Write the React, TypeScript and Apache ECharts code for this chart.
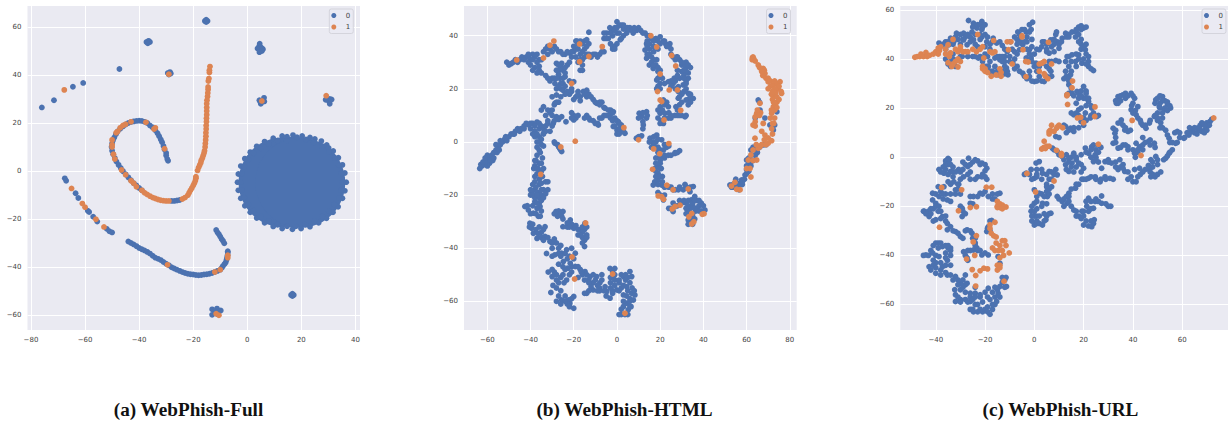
import React, { useEffect, useRef } from "react";
import * as echarts from "echarts";

const BLUE = "#4C72B0";
const ORANGE = "#DD8452";
const captions = ["(a) WebPhish-Full", "(b) WebPhish-HTML", "(c) WebPhish-URL"];
const xTicksA = [-80, -60, -40, -20, 0, 20, 40];
const yTicksA = [-60, -40, -20, 0, 20, 40, 60];
const xTicksB = [-60, -40, -20, 0, 20, 40, 60, 80];
const yTicksB = [-60, -40, -20, 0, 20, 40];
const xTicksC = [-40, -20, 0, 20, 40, 60];
const yTicksC = [-60, -40, -20, 0, 20, 40, 60];

// ---- (a) flat x,y lists
const aSpiralBlue = [-29.3,4.3,-29.6,5,-30,6.5,-30,7.5,-30.6,9,-31,10.5,-31.5,12,-32,13.2,-32.6,14.5,-33.2,15.8,-34,17,-35,18.2,-36,19,-37,20,-38,20.5,-39,20.9,-40,21,-41,20.9,-42,20.7,-43,20.4,-44,20,-45,19.4,-46,18.6,-47,17.6,-48,16.5,-48.6,15.3,-49.2,14,-49.7,12.7,-50,11.5,-50.2,10,-50,8.5,-49.6,7,-49,5.5,-48.4,4,-47.6,2.6,-46.8,1.3,-46,0,-45,-1.3,-44,-2.6,-43,-3.8,-42,-5,-41,-6,-40,-7,-39,-8,-28,-12.4,-27,-12.4,-26,-12.2,-25,-12];
const aSpiralOrange = [-30.6,9.3,-34.5,17.5,-34,18,-37.5,20.3,-43,20.5,-45,19.5,-46,19,-47,18,-48,16.5,-48.5,16,-50,13,-50,11,-50,10,-49.5,7,-49,5,-46.5,0.5,-45,-1.5,-43,-4,-42,-5,-41,-6.5,-39,-8,-38,-9,-37,-9.7,-36,-10.4,-35,-11,-34,-11.4,-33,-11.8,-32,-12.1,-31,-12.3,-30,-12.4,-29,-12.4,-24,-11.6,-23,-11,-22,-10,-21.5,-9,-21,-8,-20.5,-7,-20,-6,-19.6,-5,-19.2,-4,-19,-3,-19,-2.3,-18.4,0.3,-18,1.5,-17.6,2.5,-17.2,3.5,-17,4.5,-16.6,5.5,-16.3,6.5,-16,7.5,-15.8,8.5,-15.6,10,-15.5,11.5,-15.4,13,-15.3,14.5,-15.3,16,-15.2,17.5,-15.2,19,-15.1,20.5,-15.1,22,-15,23.5,-15,25,-15,26.5,-15,28,-14.9,29.5,-14.7,31,-14.6,32.5,-14.5,34,-14.5,35,-14.4,37.5,-14.2,38.5,-14,41,-14,42,-13.8,43.5];
const aLowerBlue = [-44,-29.3,-43,-29.9,-42,-30.5,-41,-31.2,-40,-32,-39,-32.5,-38,-33,-37,-33.6,-36,-34.3,-35,-35.2,-34,-36,-33,-36.5,-32,-37,-31,-37.8,-30,-38.5,-29,-39.2,-28,-40,-27,-40.5,-26,-41,-25,-41.5,-24,-42,-23,-42.4,-22,-42.7,-21,-42.9,-20,-43,-19,-43.2,-18,-43.3,-17,-43.2,-16,-43,-15,-42.9,-14,-42.7,-13,-42.4,-12,-42,-11,-41.5,-10,-41,-9.4,-40.2,-9,-39.5,-8.4,-38.6,-8,-38,-7.7,-37,-7.5,-36,-7.3,-35,-7.2,-34,-7.2,-33.3,-11.5,-24.5,-11,-25.5,-10.5,-26.3,-10,-27.2,-9.5,-28.2,-9,-29,-8.5,-30,-67.5,-3,-67,-4,-63.5,-9.2,-62.5,-11.2,-59,-16.5,-58.5,-17,-57,-19,-55.5,-21,-52,-24,-51,-25,-50,-25.5];
const aLowerOrange = [-65,-7.2,-61,-13.5,-60,-15,-56,-20,-53,-23.2,-29.5,-39,-12,-42,-10,-41,-7.2,-35,-7.2,-36];
const aClustersBlue = [-15.7,62.5,-15.2,63,-14.7,62.5,-15.2,62,-37.3,53.7,-36.5,54.2,-36,53.7,-36.8,53.2,-47.3,42.5,-29.4,40.8,-28.6,41.2,-28.3,40.6,-29,40.2,-76,26.5,-71.5,29.5,-64.5,35.1,-60.7,36.7,4.6,53,4.4,52,5,51.5,3.8,51,4.6,50.8,5.5,51,5.8,50.7,4.5,49.5,5.4,50,4.8,29,5,28.5,5,28,5.8,29,6.3,29,6.2,30.5,4.5,29.5,29.5,29.8,30.2,29.2,30.5,28,30.5,30,31.2,29.8,29,29.7,16.2,-51.5,16.7,-52,17.2,-51.5,16.7,-51,-13,-57.5,-11.2,-57.2,-12,-58.5,-9.8,-58,-13,-59.8,-11,-59.5,-10.5,-58.5];
const aClustersOrange = [-67.7,33.8,-29,40.3,5.4,29.2,29.2,31.4,-11.5,-59.3,-10.5,-60];
const aDiskRim = [16.9,15,20.3,14.6,23.2,14,25,13.4,27.4,12.5,29.4,10.9,31.8,8.4,30.1,9.6,33.7,5.6,35.2,2.6,36.1,-0.8,36.6,-4.6,36.1,-8.2,35.2,-11.3,33.6,-14.8,31.7,-17.1,29.3,-19.6,26.4,-21.5,23.2,-23.1,19.9,-23.9,16.7,-24.2,12.9,-23.9,9.6,-23,6.4,-21.5,3.5,-19.5,1.1,-17.1,-0.9,-14.4,-2.4,-11.3,-3.3,-8,-3.6,-4.6,-3.3,-1.2,-2.4,2.1,-0.9,5.2,1.1,7.9,3.5,10.3,6.4,12.3,9.6,13.7,12.9,14.6,14.7,14.3,18.4,14.1,21.7,13.2,24.6,11.9,27.7,10.4,30.2,8,32.4,5.5,33.9,2.4,34.8,-0.9,35.2,-4.6,34.7,-8,33.9,-11.2,32.2,-13.9,30.2,-16.7,27.7,-18.9,24.8,-20.8,21.5,-22.2,18,-22.9,14.7,-22.9,11.2,-22.3,8,-20.8,5,-18.9,2.3,-16.5,0.4,-13.9,-1.1,-11,-2,-7.9,-2.3,-4.6,-2,-1.1,-1.1,2,0.4,4.8,2.3,7.4,5,9.5,8,11.3,11.2,12.7,14.6,12.6];
const aDiskInner = [16.4,-4.4,13.4,-4.6,19.6,-4.8];

// ---- (b)
const bLeftArm = [-63.5,-10,-62.5,-9,-61.5,-8.5,-63,-8.5,-60,-9,-59,-8,-60.5,-7,-59,-6,-60,-5,-57.5,-7,-58,-5,-57,-4,-56,-3,-55,-2,-56,-1,-54,-1,-53,0,-52,1,-51,0.5,-50,2,-48,3,-47,4,-46,5,-44.5,5,-43,6,-41,6.5,-39,7,-37,7.5,-40,5,-38,4,-36,5,-35,6,-38,2,-36,2,-34,3,-37,0,-34,3.3,-31,4,-29.5,7,-28,9.5,-31,11,-33,10,-35,12,-34,13.3,-28.7,14.6,-28,17.7,-28,20,-25.6,9.5,-23.6,7.6,-62,-7.5,-61,-6,-58.5,-7,-57,-6,-55.5,-4,-54.5,-3,-54,0.5,-51.5,2,-49,3,-47.5,3,-45,4,-43,5,-42,7,-40,7,-38,6,-36,7,-34,5,-33,6,-32,7,-39,3,-37,3,-35,1,-33,4,-30,6,-29,8,-30,10,-32,8,-27,8.5,-30,12,-29,14,-32,12,-27,15,-30,17,-26,17,-28,15];
const bColumn = [-36,0,-37,-2,-36,-3,-37,-5,-37.5,-7,-36,-8,-38,-9,-36.5,-10,-35,-11,-37,-12,-36,-14,-38,-15,-36,-16,-33,-15,-32,-15,-39,-16,-39.5,-19,-38,-18,-36,-19,-34,-18,-32,-18,-38,-21,-36,-21,-35,-20,-38,-22.5,-36,-23,-42.6,-24.3,-41,-25.6,-38.7,-26.8,-36.4,-28,-35.6,-24.3,-37,-25,-40.3,-30.6,-38.7,-34.4,-37,-36.3,-33.3,-31.9,-33.3,-35.6,-31,-37.5,-28,-38,-27,-40,-39.5,-32.5,-35,-34,-32.6,-42,-28.7,-42.5,-25.6,-41.9,-23.3,-40.6,-19.3,-41.9,-30,-40,-35,-1,-34,-1.5,-35.5,-4,-34.5,-6,-38,-7,-38.5,-10,-37,-10,-35,-8,-34,-10,-36,-12,-38,-13,-34.5,-13,-35,-15.5,-37.5,-17,-40,-18,-40,-20,-39,-20,-37,-19,-37,-20,-35,-18,-33,-19.5,-37,-23,-35,-22,-34,-21,-39,-24,-37.5,-27,-40,-27,-41.5,-24,-35,-26,-35.5,-28,-40.5,-32,-39,-31,-37.5,-33,-36.5,-34.5,-35,-36,-36,-32,-34,-33,-32,-36,-34,-37,-30,-38,-29,-36.5,-26,-39,-27,-42,-30,-43,-26,-43,-24,-42,-22,-43,-21,-40,-23,-44,-20,-44,-21,-47,-25,-47,-22.7,-47.5];
const bBottom = [-24.8,-45,-21.6,-45.7,-19.3,-46.9,-17,-48,-14.8,-48.8,-12.5,-50.7,-9.4,-50.7,-7,-50,-11,-53,-7.9,-53,-5.5,-54.5,-11,-55.7,-14,-57,-4.7,-56.3,-3.2,-58.8,0,-55.7,3,-57.6,4.5,-54.5,6,-53,6.8,-57,8.3,-57.6,7.6,-59.5,4.5,-60.7,5.2,-63.2,3.7,-65,-1.7,-50.7,-3.2,-47.6,-1,-47.6,3,-50.7,6,-48.8,6.8,-50.7,-31.8,-49,-30,-50.7,-27,-53,-23.3,-52,-29.6,-54,-30.6,-56.7,-25.6,-59.5,-22.5,-59.5,-20,-58.2,-20,-62.6,-21.8,-60.7,-16.5,-49,-24,-48,-27,-46,-28,-50,-21,-49,-8,-55,-13,-52,-3,-53,1,-53,4,-52,3,-60,6,-62,2,-63,1,-65,-24,-58,-23,-61,-28,-60,-2,-57,-18,-47,-16,-50,-14,-50,-15,-52,-13,-53,-11,-50,-10,-52,-12,-54.5,-9,-54,-8,-56,-6,-56,-7,-52,-9,-56,-13,-56,-15,-57,-5,-58,-2,-56,-3,-55,-1,-54,1,-56,2,-55,3,-54,5,-56,4.5,-58,6,-59,7,-55,8,-56,6,-60,3,-62,6.5,-62,5,-65,2,-65,-1,-52,-2,-49,-3,-51,1,-52,2,-50,4,-50,5,-51,-1,-50,-29,-49,-30,-48,-26,-51,-24.5,-53,-28,-55,-26,-56,-28,-52,-25,-50,-22,-50,-18,-51,-27,-58,-24,-60,-21,-59,-22,-62,-26,-61];
const bIsland = [-28.2,-26.2,-25,-26.2,-25.6,-28,-27.5,-28,-25,-31.9,-21.6,-29.4,-20,-32.5,-17,-33,-14.8,-30.6,-18,-35,-15,-37,-15,-39.4,-23,-32,-21,-31,-15,-33,-16,-36,-28.7,-0.5,-27,-1.8,-25.6,-3.6,-27,-27,-25,-29,-23,-30.5,-22,-32,-19,-31.5,-18,-33,-16,-32,-14,-32,-16,-34,-14,-35,-17,-35,-14,-36,-16,-38,-27,-26,-29,-27,-26,-27,-29,0,-27.5,-1,-26,-3,-26.5,-2.5];
const bUpperLeft = [-51,30,-49,29.5,-47,31,-45,31,-44,32,-42,32,-40,31,-39,33,-37,33,-36,31,-40,29,-38,28,-37,26,-36,27,-41,30,-34,34,-33,35,-31,35,-29,36,-28,35,-26,34,-24,33,-22,33.5,-20,34,-19,35,-21,32,-18,37,-17,38,-19,38,-15,38,-13,37,-15,35,-13,33,-11,33,-9,32,-8,33,-6,34,-17,33,-17,31,-16,29,-17,27,-15,32,-18.6,38,-14,38.5,-13,41.3,-28,29.6,-25.6,29.6,-23,29,-27,27,-25,27,-24,24.6,-26.4,24,-33,25,-31,23,-28.7,22,-25,22,-20,22.7,-30,24,-27,25.5,-50,29,-48,30,-46,30,-43,31,-41,32,-38,32,-41,33,-39,31,-37,30,-39,27,-36,28.5,-35,26,-35,31,-32,33,-30,34,-32,36,-27,34,-25,33,-23,34,-21,34,-20,36,-18,35,-19,32,-18,30,-16,37,-14,36,-16,34,-14,33,-12,32,-10,33,-7,34,-16,31,-16,27,-28,27,-26,28,-24,28,-24,26,-27,29,-22,30,-29,24,-32,24,-28,24,-26,22,-24,21,-27,21,-25,24,-22,23,-21,20,-26,20];
const bMidBranch = [-25,19.5,-22,18,-19,17,-15.6,19,-14,17,-11,16,-9.4,14.6,-7,15,-5.5,12.7,-3,12,-1.7,11.4,-6,10,-8,9,-4,10,-1,9,0.6,7.6,2,6.4,-1.7,5.8,2,3.9,3.7,3.3,-20,10,-19,9,-20,8.3,-14,10,-12.5,8.3,-10,7,-8.6,6.4,-23,19,-18,19,-13,18,-17,15.5,-3,10.5,0,4.5,1,5,-24,18,-21,19,-20,16,-17,17,-15,18,-14,19.5,-12,17,-10,15,-8,15,-8,14,-6,13,-4,12,-2,11,-5,10,-7,9,-3,9,-2,8,0,8,1,7,-1,6,0,3,1,3,3,4,-21,11,-21,9,-18,10,-15,9,-13,9,-11,8,-9,7,-18,18];
const bTopArc = [-4.8,41,-2.5,42,-1,43,0,45.3,2,44,4,43,6,43,9,42,10,43,12,41,15,40,18,39,21.5,38,24,36,26,32,29,31,32,28,33,26,32,23,-2,35,-1,36,1.5,38.5,4.5,41,-4,39,-2,40,0,41,3,42.5,-6,41,-3.3,43,7.5,41,14,38,17,38,20,39.6,24.5,37,22.5,37,-6,39,-5,39,-3,41,-1,42,1,44,0,43,1,41,3,44,5,43,3,40,5,42,7,42,8,43,11,42,13,41,14,40,16,39,19,38,20,37,22,38,23,36,25,35,25,33,27,31,28,32,30,29,31,29,32,30,34,28,33,24,-3,37,0,37,-2,36,-1,35,2,39];
const bRightBlock = [13,34.6,13.7,31.5,16,32,18.4,31,16.8,27.7,19,26.5,18.4,23.3,20,22,18.4,20,23.8,22.7,26,22,28.4,20.8,26.5,24,30,26.5,32,26.5,30.7,21.5,33,18.3,35.3,16.4,32,15.8,28.4,19,28.4,16.5,27.3,13.3,26.8,10,31.5,9.5,23.8,9,21.5,7,20,10.8,20,13.3,21.5,15.8,23.8,13.3,22.2,10.8,13.7,37,27.6,32,30,30,33,29,15,35,17,34,15,29,18,29,21,24,29,10,33,14,34,18,31,25,28,27,32,20,29,14,25,9,20.5,8,14,33,15,33,17,31,14,36,15,37,17,36,19,35,16,30,17,29,19,28,20,27,20,25,19,24,19,21,20,20,22,22,25,23,27,23,29,24,28,25,31,27,31,24,32,22,31,19,30,18,33,16,34,17,34,15,29,17,30,15,28,12,28,10,30,10,32,10,25,10,22,9,20,7,19,12,19,9,21,12,22,14,23,15,24,11,27,20,25,21];
const bMiddle = [10.3,10.8,11.4,9.5,13.7,11.4,13.7,9,12.2,6.4,12,7.6,9,1.4,11.4,2.3,15.3,1.4,18.4,2.6,16.8,0,20.7,0.8,16,-2,18.4,-2.4,21.5,-3,24,-1.5,20,-5.5,23.8,-5,26.8,-4.3,29,-3.3,20,-8,17.6,-10,19,-11.8,19,-14.3,16.8,-16.2,20.7,-16.2,23,-16.8,26,-18,28.4,-18,31.5,-16,35.3,-16.8,30.7,-18,33.8,-18.7,18,-6,19,-9,21,-13,20.5,-10,22,-6,12,11,10,9,12,5,14,10,10,2,15,0,17,2,18,0,19,1,17,-1,19,-2,20,-3,22,-1,23,-2,19,-4,22,-5,25,-5,27,-4,28,-4,20,-7,18,-8,20,-10,18,-11,18,-13,20,-13,17.5,-15,19,-16,21,-15,22,-17,24,-17,25,-17,27,-18,29,-17,32,-17,34,-17];
const bLowerRight = [24,-25,30,-23,32,-23,34.5,-21.8,37,-22,39,-23,40.7,-25.6,35,-24,38,-24,33,-26.2,34.5,-30,33,-29.4,36,-29,27,-24.3,26,-26.2,21.5,-21.8,19,-19,36,-20.5,34,-25,36.5,-26,39,-26,25,-25,26,-23,28,-24,29,-22,31,-22,33,-22,33,-24,35,-23,36,-22,38,-22,36,-25,37,-25,40,-24,38,-26,32,-25,32,-27,34,-28,35,-27,35,-31,33,-31,35,-28,20,-20,22,-20];
const bArcBlue = [52.3,-16.2,54,-15.8,56,-15.6,56,-17.5,57.7,-14.3,59.3,-12.4,60,-10.5,61.6,-8,60,-6.8,62.3,-4.9,64,-3,65.4,-1.8,67.7,-1.1,65.4,15.8,66.2,12,64,9,68.5,9,70.8,6.4,73,6.4,72.4,4.5,74,11.4,55,-14,57,-16,54,-17,53,-17,55,-17,56.5,-18,58,-16,58,-15,59,-14,60,-12,61,-11,60,-9,62,-9,63,-7,61,-6,62,-3,63,-2,65,-4,64,-5,66,-2,69,-1,66,15];
const bArcOrange = [62.7,31.7,63,32,63.3,31.3,62.6,31,65.4,29,67.7,27.7,66.8,27.5,68.5,25.8,68.2,27,67.5,25,70,22.7,71,21,72.4,21.5,74,22,75.5,22.7,76.2,18.3,74.6,20,72.4,17,73.5,18.5,74,15,75,16,72.4,13.3,71.6,10.8,73,9,72.6,7,71.6,5,71.6,0.5,70,-0.5,68.5,2.6,68.2,0.8,66.2,-1.8,65.4,-2.4,63.9,1.4,63,-3,62,-4.9,60.8,-6.8,64.7,-6.8,63,-7,61.6,-10,60,-10,62,-13.2,54.6,-15.2,53,-16.6,55.4,-17.8,57,-18,66.2,14.6,64.7,10.8,64,7.6,67.7,7,63,6.4,65.4,11,64,9.5,66.5,11,72.5,15,71.5,18,70,20,73,12,64,30.5,66,28,67,26.5,69,24,70,24,71,23,73,23,75,21,73,20,72,19,74,17,76,19,72,16,73,14.5,74,13,71.5,12,71,9,72,7,72,3,67,-1,69,-1,70,1.5,64.5,-1,67,4,66,10,65,12,64,6];
const bSpotsOrange = [-46.4,30.9,-34,31.6,-31,36.4,-29.2,38,-17.3,36.9,-17.3,30.2,-13,32.2,-6.8,35.9,-21,22,3.2,5.4,10,0.8,-26,-1.9,-19.3,0.3,-35.3,-12.2,15.7,40,18.4,35.8,25.3,32.6,27.2,28.6,20,25.6,18.8,19,24.2,19.6,28,19.6,20,15.8,20.7,15.2,29.5,11.9,21.8,8.3,24,-0.6,17,-2.6,19.8,-4.4,16.5,-10.3,23.1,-16.3,26,-18,33,-17.7,19.1,-20.3,20.7,-20.6,21.6,-21.6,29.2,-23.8,26.9,-24.3,25.6,-25.2,34.6,-26.9,33.3,-28.2,35.6,-30,34.6,-30.9,39.5,-27.2,40.3,-27,-14.5,-30.5,-20.8,-43.3,-19.6,-51.6,-2,-49.7,3.7,-64.5];

// ---- (c)
const cTopBlue = [-26.7,55.7,-24.7,54.6,-21.3,55.3,-20,54,-23.3,52.6,-21.3,52,-25.3,51,-28.7,50.5,-31.6,50.5,-34,48.5,-36,47,-38.7,46.5,-28.7,47.8,-24.7,47.8,-21.3,49,-19.3,47,-16.7,48.5,-15.3,46.5,-34.7,45.8,-32.7,47,-27.3,45.8,-35,38,-34,37,-31.3,39.7,-29.3,41,-22.7,40.4,-21,40.4,-18.7,37,-20,36.3,-17.3,33.6,-14.7,33.6,-10.7,33.6,-11.3,36.3,-14,39.7,-16,40.4,-12,41,-10,39,-8.7,38.3,-7,37,-9.7,47,-6,43.8,-5.3,46.5,-5.3,49,-6.7,51,-3.3,51,-1.3,52,-0.7,55,-4.7,45.8,-2,43.8,-1.3,40.4,-3.3,40.4,0.7,38.3,3.3,38.3,6,39,8.7,39.4,-4.7,34.2,-2,32.9,0,30.8,2,32.9,4,30.8,6.7,35,2,43.8,3.3,47,6.7,47.8,9.3,47,6,42.4,10,44.4,8.7,50,11.3,48.5,12.7,50.5,15.3,51,18,53,20,52.6,19,53.5,16.7,49,18,47,20.7,43.8,22,41,15.3,41.7,18,41.7,13.3,41,12.7,39,16.7,39,19.3,38.3,22,37,24,35.3,12.7,35,14.7,33.6,-23,45,-18,44,-20,42,-25,41,-12,44,-16,37,-13,35,-7,46,-8,49,-3,47,-1,48,-2,35,1,35,5,43,8,46,14,50,17,51,19,44,21,46,17,37,-26,49,-30,46,-36,44,-31,48,-37,46,-35,47,-33,46,-32,49,-30,50,-28,49,-26,47,-24,46,-25,53,-23,54,-22,54,-21,53,-24,50,-22,50,-20,50,-22,48,-19,49,-17,47,-20,45,-18,46,-14,47,-13,45.5,-27,50,-29,48,-33,42,-36,40,-33,40,-30,41,-27,41,-32,37,-34,39,-24,41,-22,41,-21,39,-19,41,-18,39,-19,37,-18,35,-17,35,-20,37,-15,35,-12,34,-11,35,-12,37,-13,39,-14,41,-15,41,-12,39,-10,41,-8,40,-8,36,-13,41,-11,43,-9,44,-8,43,-7,42,-6,47,-7,48,-6,50,-5,52,-4,52,-2,51,-2,54,-3,49,-4,47,-3,44,-1,45,0,42,-2,42,-1,39,0,37,2,37,5,37,7,39,10,39,-6,35,-4,33,-3,32,-1,31,1,31,3,31,5,33,6,36,7,33,1,44,3,45,4,47,5,46,7,45,8,43,5,44,8,48,10,46,11,47,9,51,13,49,14,49,17,52,19,52,21,53,18,50,19,48,19,46,20,45,21,42,22,39,17,42,14,41,15,39,18,40,20,40,21,38,23,36,14,37,13,33,14,32,15,35];
const cRiver = [14,29.5,15.3,26,13.3,25.4,17.3,26.8,20,28.8,20,24,22,22.7,18,19.3,16,17.3,20.7,18,23.3,20,25.3,16.6,22.7,16,19,14.5,16,10.5,14.7,11.8,12.7,12.5,8.7,8.4,18,24,17,22,21,26,14,31,19,16,12,32,15,28,14,26,16,25,18,26,19,27,21,27,19,25,21,24,22,24,21,21,23,21,19,20,17,18,15,18,18,17,20,16,21,15,23,17,24,18,26,17,20,13,18,12,16,12,14,11,13,10,12,13,10,8];
const cCenter = [7.3,3.7,9.3,2.3,11.3,0.3,14,-0.4,16,1.6,12.7,-3.1,15.3,-2.4,18,-2.4,20,-4.5,14,-5.8,20.7,3.7,23.3,4.3,26,5,22,1.6,24.7,1,24,-1.8,28.7,-1.8,31.3,-2.4,34.7,-1,36,-3,34,-5,36.7,-5.8,27.3,-4.5,40.7,-5,39.3,-8,41.3,-10,42.7,-4.5,46.3,-3.4,47.3,-1,49.3,0.3,50,-1,46.7,-5,47.3,-8,50,-7,51.3,-6,53.3,-0.4,54.7,1.6,56,3,-3.3,-6.5,-1.3,-5,0.7,-2.4,2,-1.8,0,-8.6,3.3,-6.5,6,-5.8,8.7,-5,9.3,-7.2,6,-9,6,-13,19.3,-9,22,-8.6,24.7,-8,26.7,-10,28.7,-8,30.7,-8.6,16.7,-12.6,14,-14.7,13.3,-18.8,9.3,-16,11.3,-18,16,-21.5,18,-24,19.3,-22,21.3,-20,24,-20.8,20,-27.6,23.3,-28.3,24.3,-25.5,22,-16.7,24.7,-18,27.3,-18.8,31,-20,27.3,-15.8,0,-13.3,2,-14.7,5.3,-16,0,-18.8,-1.3,-22,0.7,-24,3.3,-27.6,0,-27.6,6.7,-22.8,4.7,-25.5,3.3,-18.8,1,-21,2,-24,-1,-26,20,-24,14,-2,17,-1,19,-6,25,0,30,-1,43,-7,45,-5,3,-9,5,-11,8,3,10,1,12,-1,13,1,15,0,17,0,15,-4,17,-4,19,-3,13,-5,16,-6,19,1,21,2,23,3,25,3,24,5,27,4,26,2,23,0,25,-1,26,-2,30,-2,33,-2,33,-4,35,-4,36,-4.5,38,-6,38,-9,40,-10,42,-8,44,-6,48,-4,48,-2,47,-6,49,-8,48,-7,50,-3,52.5,-1,54,0.5,55,2,-4,-7,-2,-7,-1,-9,1,-8,1,-5,1,-7,3,-5,5,-7,7,-6,8,-7,7,-9,5,-12,7,-12,5,-14,6,-15,20,-9,21,-9,23,-8,25,-9,27,-9,29,-9,32,-9,18,-11,17,-11,15,-13,14,-16,13,-16,14,-18,12,-17,10,-17,12,-20,15,-20,17,-22,17,-24,19,-25,20,-22,22,-22,23,-21,21,-26,23,-26,24,-27,22,-28,21,-18,23,-18,25,-17,26,-18,29,-19,30,-20,1,-16,3,-15,4,-16,1,-18,-1,-20,0,-22,0,-24,1,-26,2,-27,4,-26,5,-24,6,-23,4,-23,3,-20,5,-19,1,-27,-1,-24];
const cRightBlue = [32,11.8,32.7,9.8,32,5.7,34,3.7,36,5,38,4.3,40.7,1.6,42.7,4.3,46.3,6.4,48.7,5.7,41.3,5.7,34,13.9,35.3,15.2,36.7,11.1,38,10.5,33.3,22,34,24.7,36,25.4,39.3,26,40.7,24,39.3,19.3,42,20.6,41.3,17.3,43.3,13.9,45.3,11.8,46.7,13.9,48.7,16.6,50,18,49.3,23.4,52,24.7,50.7,20.6,52.7,19.3,55.3,20,54,21.3,51.3,14,53.3,11,54.7,7.7,57.3,5.7,58,10.5,60.7,7.7,62.7,9,64,11,66,11.8,68,10.5,70,12.5,71.3,14.5,67.3,13,44,3,44,8,42,2,37,24,35,23,53,23,52,16,50,15,63,10,65,10,69,11,66,9.5,70,14,72,15.5,33,11,33,8,33,6,35,4,37,5,38,3,40,3,41,0,42,3,44,5,45,6,47,5,47,7,49,4,35,14,36,13,37,12,39,11,34,22,33,23,35,25,37,26,38,25,40,25,40,22,39.5,21,41,19,40,18,42,16,43,15,44,13,45,13,47,15,49,17,50,16,49,22,50,24,51,25,52,23,51,22,51,20,53,20,54,19,55,21,54,22.5,52,18,51,12,52,12,54,9,55,6,56,6,58,6,59,8,57,10,59,10,61,8,62,10,63,12,65,12,67,11,67,12,69,10,70,11,71,13,69,13,68,14];
const cLowerUp = [-35.3,-1,-36,-3,-38.7,-5,-36.7,-6.5,-34,-5.8,-30.7,-5,-27,-3.8,-26.7,-0.4,-24,-1,-21.3,-2.4,-19.3,-4.5,-21.3,-8,-24,-9,-19.3,-9,-28.7,-8,-32.7,-10,-36.7,-12,-41.3,-14.7,-38.7,-16,-35.3,-17.4,-32,-13.3,-30.7,-11,-41.3,-17.4,-24.7,-16,-22,-14.7,-26,-18.8,-18.7,-16,-14,-14.7,-29.3,-24.2,-29.3,-20.8,-40,-18.8,-44.7,-22,-42.7,-24.2,-40,-25.5,-38.7,-20,-37.3,-24.2,-35.3,-27,-34,-28.3,-35,-0.5,-33,-6,-36,-15,-34,-15,-30,-15,-29,-2,-26,-6,-38,-22,-42,-21,-33,-8,-17,-17,-36,-1.5,-34.5,-1,-35,-3,-37,-4,-33,-4,-34,-3,-38,-6,-36,-5,-35,-7,-32,-6,-30,-6,-29,-5,-28,-3,-25,-2,-26,-3,-23,-1.5,-22,-3,-20,-3,-20,-5.5,-21,-7,-23,-8,-20,-8,-26,-9,-27,-7,-30,-9,-31,-11,-34,-11,-35,-10,-38,-14,-39,-12,-40,-15,-37,-15,-37,-17,-34,-18,-32,-15,-31,-13,-26,-16,-25,-19,-23,-16,-21,-15,-20,-14,-17,-15,-16,-17,-15,-15,-29,-22,-28,-23,-30,-20,-43,-22,-45,-22,-44,-23,-42,-23,-41,-21,-40,-20,-39,-22,-38,-25,-36,-26,-36,-24,-41,-26];
const cLowerDown = [-35.3,-29.6,-32,-30.3,-30,-32.3,-27.3,-29.6,-25.3,-31,-24,-33,-24.7,-37.8,-28.7,-38.5,-27.3,-41,-23.3,-37,-21.3,-39.8,-18.7,-28.3,-19.3,-30.3,-17.3,-25.8,-40,-35,-37.3,-36.4,-34,-37,-44,-39.8,-41.3,-39,-38.7,-40.5,-35.3,-42,-42.7,-44.6,-40,-47.3,-37.3,-44.6,-35.3,-48,-32,-48.6,-30,-51.4,-28,-48,-27.3,-51.4,-32.3,-54,-32,-58.8,-28,-58,-26,-55.4,-24,-55.4,-26,-58.8,-24.7,-63,-22,-62,-18,-64,-21,-59,-18,-58,-15.3,-58.8,-14.7,-55.4,-18.7,-53.4,-14,-52.7,-12,-50,-11.3,-52.7,-14,-43.2,-14.7,-40.5,-18.7,-39.8,-39,-37,-36,-39,-40,-43,-35,-37,-34,-44,-30,-54,-30,-58,-22,-57,-19,-61,-20,-55,-16,-60,-24,-60,-21,-63,-26,-62,-24,-53,-33,-30,-31,-31,-29,-33,-28,-30,-26,-30,-25,-33,-24,-35,-24,-36,-26,-38,-27,-38,-23,-38,-22,-38,-28,-40,-27,-42,-20,-39,-19,-29,-18,-30,-18,-26,-41,-36,-39,-35,-38,-35,-36,-36,-35,-36,-34,-38,-34,-40,-36,-41,-43,-40,-45,-40,-42,-38,-40,-40,-41,-42,-38,-43,-36,-44,-41,-44,-42,-46,-40,-45,-38,-46,-38,-48,-36,-47,-34,-48,-33,-50,-31,-50,-29,-50,-28,-52,-31,-52,-29,-53,-28,-55,-32,-56,-31,-57,-30,-59,-26,-57,-25,-58,-27,-59,-24,-57,-22,-56,-23,-60,-25,-62,-23,-63,-20,-62,-19,-63,-17,-62,-17,-60,-16,-57,-14,-57,-15,-54,-16,-53,-13,-51,-12,-53,-13,-49,-11.5,-49,-19,-57,-17,-55];
const cTopOrange = [-48.5,40.7,-47.5,41,-46.5,41,-46,42,-45,41,-44,42.7,-43.5,41,-42.5,41.5,-41,42,-40,43,-39,42,-38.5,43.5,-39,44.5,-38,45,-36,44,-36,42,-35,45.8,-34,42.5,-34.5,41,-33,48,-32,44,-31,43,-30,44,-30,45,-29,43,-28,43,-27,43,-25,44,-23.5,43,-22,44,-21,45,-23,50,-31,40,-32,39,-33,38,-35,38.5,-33.5,37,-30,39,-31,36.8,-16.5,47.5,-18,43,-17,42.5,-16,43,-20.5,40.4,-21,37,-20,36,-21,36,-20,35,-19,34.5,-17.5,33,-15.5,33.5,-14,36,-13.5,34.5,-13.5,33,-11,47,-9.5,47,-10.5,43.8,-9,38,-5,49.5,-5,49,-4.6,43.8,-3.5,39,-2.5,38.8,2,38,3,38.3,4,39,7,38,2,35,4,34,4.5,33,5.5,32,-3.4,32.8,5.7,46.8];
const cMidOrange = [15.5,31,15.3,28.3,13.3,25.5,13.2,25,13.5,21.5,24.6,20.5,24.5,16.6,17.5,16,18.8,16.2,20,14,7,13,6.5,11,6,10.5,6,9.5,8,10.5,9.5,12.5,10,13,11.5,12,9,11.8,4,6.5,5,4.5,4,4,3.5,3.6,3,3.3,6,4.5,4.5,3.5,9,2.8,11,1.5,11,0.7,26,5.3,39.7,15,43.3,0.7,72.8,16,-3,-6.6,8,-9.7,0.5,-14.2];
const cLowOrange = [-37.6,-12.3,-29.5,-13.3,-19.5,-12.2,-17.3,-12.2,-30.8,-21.8,-26,-20.5,-23.5,-20.2,-15,-18,-14,-19,-13,-19.5,-15,-20,-14,-20.5,-12.5,-20.3,-11.5,-20.3,-15,-20.5,-13,-21,-38.5,-28.5,-18,-27.5,-16,-26.5,-18,-29,-17.5,-31,-16.5,-32,-15.5,-32.5,-15.5,-35,-14,-36,-13,-34,-12,-34,-11.5,-36,-17,-37,-16,-38,-14.5,-38,-13,-38,-12.5,-40,-14,-41,-10.2,-39,-15,-44,-14,-44,-15,-46,-14,-45,-23.5,-32,-24.8,-34.5,-24.2,-40,-27.5,-41.5,-25.2,-45.8,-20.5,-45.2,-19,-45.5,-22,-46.3,-23.8,-48.2,-23.8,-52.5,-12.3,-50.5];

const pts = (...lists: number[][]) => {
  const out: number[][] = [];
  for (const l of lists) for (let i = 0; i + 1 < l.length; i += 2) out.push([l[i], l[i + 1]]);
  return out;
};

const axes = [
  { left: 27.5, w: 332.5, xMin: -81.3, xMax: 41.7, yMin: -66.1, yMax: 68.7, xT: xTicksA, yT: yTicksA },
  { left: 464, w: 332.7, xMin: -70.8, xMax: 83.2, yMin: -70.8, yMax: 51.2, xT: xTicksB, yT: yTicksB },
  { left: 900.3, w: 332.5, xMin: -54.4, xMax: 78.6, yMin: -70.4, yMax: 61.6, xT: xTicksC, yT: yTicksC },
];
const legendLeft = [329.3, 766.5, 1202];
const captionX = [188.5, 624.5, 1060.5];
const blueSets = [
  pts(aSpiralBlue, aLowerBlue, aClustersBlue, aDiskRim),
  pts(bLeftArm, bColumn, bBottom, bIsland, bUpperLeft, bMidBranch, bTopArc, bRightBlock, bMiddle, bLowerRight, bArcBlue),
  pts(cTopBlue, cRiver, cCenter, cRightBlue, cLowerUp, cLowerDown),
];
const orangeSets = [
  pts(aSpiralOrange, aLowerOrange, aClustersOrange),
  pts(bArcOrange, bSpotsOrange),
  pts(cTopOrange, cMidOrange, cLowOrange),
];

const fmt = (v: number) => String(v).replace("-", "\u2212");

export default function App() {
  const ref = useRef<HTMLDivElement>(null);
  useEffect(() => {
    document.body.style.margin = "0";
    const chart = echarts.init(ref.current!, null, { renderer: "svg" });
    const series: any[] = [];
    const base = { type: "scatter", symbol: "circle", silent: true, large: false, progressive: 0 };
    // the saturated interior of the big disc of panel (a)
    series.push({ ...base, name: "0", xAxisIndex: 0, yAxisIndex: 0, symbolSize: 90, itemStyle: { color: BLUE, opacity: 1 }, data: pts(aDiskInner), z: 2 });
    axes.forEach((_, i) => {
      series.push({ ...base, name: "0", xAxisIndex: i, yAxisIndex: i, symbolSize: 5.8, itemStyle: { color: BLUE, opacity: 1 }, data: blueSets[i], z: 3 });
      series.push({ ...base, name: "1", xAxisIndex: i, yAxisIndex: i, symbolSize: 5.8, itemStyle: { color: ORANGE, opacity: 1 }, data: orangeSets[i], z: 4 });
    });
    const label = { show: true, fontSize: 7, color: "#444", fontFamily: "DejaVu Sans", formatter: fmt };
    chart.setOption({
      animation: false,
      backgroundColor: "#fff",
      grid: axes.map((a) => ({ left: a.left, top: 6, width: a.w, height: 324, show: true, backgroundColor: "#EAEAF2", borderWidth: 0 })),
      xAxis: axes.map((a, i) => ({
        type: "value", gridIndex: i, min: a.xMin, max: a.xMax,
        axisLine: { show: false },
        axisTick: { show: false, customValues: a.xT },
        axisLabel: { ...label, margin: 6, customValues: a.xT },
        splitLine: { show: true, lineStyle: { color: "#fff", width: 1 } },
      })),
      yAxis: axes.map((a, i) => ({
        type: "value", gridIndex: i, min: a.yMin, max: a.yMax,
        axisLine: { show: false },
        axisTick: { show: false, customValues: a.yT },
        axisLabel: { ...label, margin: 6, customValues: a.yT },
        splitLine: { show: true, lineStyle: { color: "#fff", width: 1 } },
      })),
      legend: legendLeft.map((l) => ({
        orient: "vertical", left: l, top: 9, data: ["0", "1"], selectedMode: false,
        itemWidth: 14, itemHeight: 5, itemGap: 4.5, padding: [3, 3, 3, 2], borderRadius: 2,
        backgroundColor: "rgba(234,234,242,0.8)", borderColor: "#d4d4dc", borderWidth: 1,
        textStyle: { fontSize: 7, color: "#444", fontFamily: "DejaVu Sans" },
      })),
      graphic: captions.map((c, i) => ({
        type: "text", x: captionX[i], y: 409,
        style: { text: c, fill: "#111", font: "bold 19.2px 'Liberation Serif'", textAlign: "center", textVerticalAlign: "middle" },
      })),
      series,
    });
    return () => chart.dispose();
  }, []);
  return <div ref={ref} style={{ width: 1228, height: 421, overflow: "hidden" }} />;
}
